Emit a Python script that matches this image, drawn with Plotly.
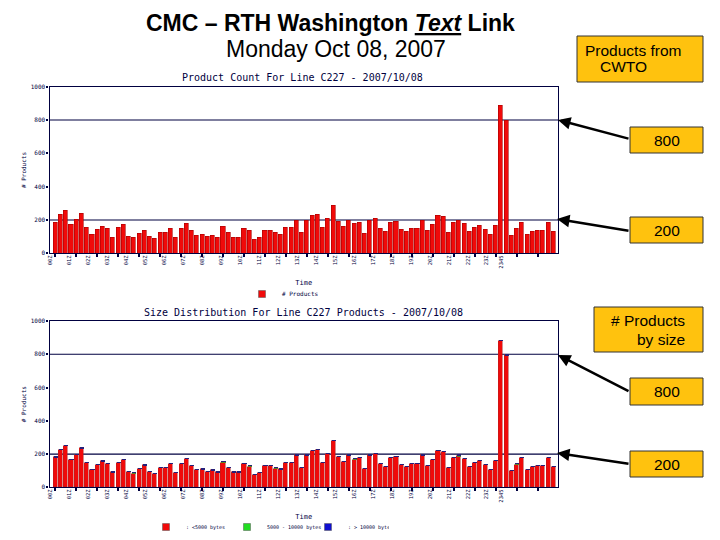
import plotly.graph_objects as go

# ---------------- data ----------------
# 15-minute bins over the day (96 bins)
bins = list(range(96))
counts = [186, 230, 254, 170, 200, 240, 152, 110, 140, 160,
          146, 94, 152, 170, 98, 92, 116, 138, 98, 86,
          122, 122, 146, 92, 146, 176, 134, 108, 112, 98,
          106, 94, 158, 122, 94, 94, 146, 134, 80, 92,
          134, 134, 122, 112, 152, 152, 198,
          122, 198, 224, 230, 152, 206, 284, 188, 158, 198,
          176, 182, 116, 198, 206, 146, 128, 182, 188, 140,
          128, 146, 146, 198, 134, 170, 224, 218, 122, 182,
          198, 176, 128, 152, 164, 140, 110, 164, 884, 798,
          104, 146, 182, 110, 128, 134, 134, 182, 128]
size_mid = [0, 0, 0, 0, 0, 0, 0, 0, 0, 0,
            0, 0, 0, 0, 0, 6, 0, 0, 0, 0,
            0, 0, 0, 0, 0, 0, 0, 0, 0, 0,
            0, 0, 6, 0, 0, 0, 0, 6, 0, 0,
            0, 0, 6, 0, 0, 0, 0,
            0, 0, 0, 0, 0, 0, 0, 0, 0, 0,
            6, 0, 0, 0, 0, 0, 0, 0, 0, 0,
            0, 0, 0, 0, 0, 0, 0, 0, 0, 0,
            6, 0, 0, 0, 0, 0, 0, 0, 0, 0,
            0, 6, 0, 0, 0, 0, 0, 0, 0]
size_large = [4, 4, 4, 4, 4, 4, 4, 4, 4, 4,
              4, 4, 4, 4, 4, 4, 4, 4, 4, 4,
              4, 4, 4, 4, 4, 4, 4, 4, 4, 4,
              4, 4, 4, 4, 4, 4, 4, 4, 4, 4,
              4, 4, 4, 4, 4, 4, 4,
              4, 4, 4, 4, 4, 4, 4, 4, 4, 4,
              4, 4, 4, 4, 4, 4, 4, 4, 4, 4,
              4, 4, 4, 4, 4, 4, 4, 4, 4, 4,
              4, 4, 4, 4, 4, 4, 4, 4, 4, 4,
              4, 4, 4, 4, 4, 4, 4, 4, 4]
size_small = [c - m - l for c, m, l in zip(counts, size_mid, size_large)]

hour_pos = list(range(24)) + [23.75]
hour_labels = ["%02dZ" % h for h in range(24)] + ["2345"]
y_ticks = [0, 200, 400, 600, 800, 1000]
thresholds = [200, 800]

# ---------------- helpers ----------------
OFF = 8                      # page body margin of the viewer
W, H = 720 - OFF, 540 - OFF
def px(x):
    return (x - OFF) / W
def py(y):
    return 1 - (y - OFF) / H

NAVY = "#000040"
MONO = "DejaVu Sans Mono"
ARIAL = "Liberation Sans, Arial"
RED = "#F00A0A"
xdom = [px(49.5), px(558)]
ydom_top = [py(253.3), py(86.7)]
ydom_bot = [py(487.3), py(321)]

fig = go.Figure()

# top chart
fig.add_trace(go.Bar(x=bins, y=counts, name="# Products", xaxis="x", yaxis="y",
                     marker=dict(color=RED, line=dict(color="#A80000", width=0.6)),
                     width=0.78, showlegend=False))
# bottom chart (stacked by size)
fig.add_trace(go.Bar(x=bins, y=size_small, name=": <5000 bytes", xaxis="x2", yaxis="y2",
                     marker=dict(color=RED, line=dict(color="#B02020", width=0.5)),
                     width=0.78, showlegend=False))
fig.add_trace(go.Bar(x=bins, y=size_mid, name="5000 - 10000 bytes", xaxis="x2", yaxis="y2",
                     marker=dict(color="#5A8A20", line=dict(width=0)),
                     width=0.78, showlegend=False))
fig.add_trace(go.Bar(x=bins, y=size_large, name=": > 10000 bytes", xaxis="x2", yaxis="y2",
                     marker=dict(color="#26207A", line=dict(width=0)),
                     width=0.78, showlegend=False))

# legend entries (small square keys like the original)
legend_items = [("# Products", RED, "legend"),
                (": <5000 bytes", RED, "legend2"),
                ("5000 - 10000 bytes", "#22DD22", "legend2"),
                (": > 10000 bytes", "#1010D0", "legend2")]
for name, col, lg in legend_items:
    fig.add_trace(go.Scatter(x=[None], y=[None], mode="markers", name=name, legend=lg,
                             xaxis="x", yaxis="y",
                             marker=dict(symbol="square", size=7, color=col,
                                         line=dict(color="#555555", width=0.5))))

# invisible carriers so the hour-label axes are drawn
for xa, ya in [("x3", "y"), ("x4", "y2")]:
    fig.add_trace(go.Scatter(x=hour_pos, y=[0] * len(hour_pos), xaxis=xa, yaxis=ya,
                             mode="markers", marker=dict(opacity=0, size=1),
                             hoverinfo="skip", showlegend=False))

xrange_bins = [-1.1, 95.9]
xrange_hours = [-0.063, 26.76]

def main_x(anchor):
    return dict(domain=xdom, anchor=anchor, range=xrange_bins, showgrid=False, zeroline=False,
                showline=True, mirror=True, linecolor=NAVY, linewidth=1.2, automargin=False,
                tickvals=list(range(0, 96, 4)), showticklabels=False,
                ticks="outside", ticklen=3, tickwidth=2, tickcolor=NAVY)

def label_x(overlay, anchor):
    return dict(domain=xdom, anchor=anchor, overlaying=overlay, range=xrange_hours,
                showgrid=False, zeroline=False, showline=False, ticks="", automargin=False,
                tickvals=hour_pos, ticktext=hour_labels, tickangle=-90,
                tickfont=dict(family=MONO, size=5.5, color=NAVY),
                title=dict(text="Time", font=dict(family=MONO, size=7, color=NAVY), standoff=12))

def main_y(dom, anchor):
    return dict(domain=dom, anchor=anchor, range=[0, 1000], showgrid=False, zeroline=False,
                showline=True, mirror=True, linecolor=NAVY, linewidth=1.2, automargin=False,
                tickvals=y_ticks, ticktext=[str(v) for v in y_ticks],
                ticks="outside", ticklen=2, tickwidth=2, tickcolor=NAVY,
                tickfont=dict(family=MONO, size=6, color=NAVY),
                title=dict(text="# Products", font=dict(family=MONO, size=6, color=NAVY), standoff=3))

shapes = []
for yref in ["y", "y2"]:
    xr = "x domain" if yref == "y" else "x2 domain"
    for t in thresholds:
        shapes.append(dict(type="line", xref=xr, yref=yref, x0=0, x1=1, y0=t, y1=t,
                           line=dict(color=NAVY, width=1.2), layer="below"))

boxes = [(577, 36, 703, 82), (630, 127, 703, 153), (630, 217, 703, 243),
         (594, 307, 703, 352), (630, 378, 703, 405), (630, 451, 703, 477)]
for x0, y0, x1, y1 in boxes:
    shapes.append(dict(type="rect", xref="paper", yref="paper",
                       x0=px(x0), x1=px(x1), y0=py(y1), y1=py(y0),
                       fillcolor="#FFC20E", line=dict(color="#333333", width=1)))

def note(text, x, y, font, xanchor="center", align="center"):
    return dict(text=text, x=px(x), y=py(y), xref="paper", yref="paper", showarrow=False,
                xanchor=xanchor, yanchor="middle", align=align, font=font)

big = dict(family=ARIAL, size=23, color="black")
box_font = dict(family=ARIAL, size=15.5, color="black")
annotations = [
    note("<b>CMC – RTH Washington <i><u>Text</u></i> Link</b>", 330, 23, big),
    note("Monday Oct 08, 2007", 336, 49, big),
    note("Product Count For Line C227 - 2007/10/08", 302, 78, dict(family=MONO, size=10, color=NAVY)),
    note("Size Distribution For Line C227 Products - 2007/10/08", 303, 312,
         dict(family=MONO, size=10, color=NAVY)),
    note("Products from", 633, 50, box_font),
    note("CWTO", 623, 67, box_font),
    note("# Products", 687, 320, box_font, xanchor="right"),
    note("by size", 687, 339, box_font, xanchor="right"),
]
for (x0, y0, x1, y1) in boxes[1:3] + boxes[4:6]:
    lab = "800" if y0 in (127, 378) else "200"
    annotations.append(note(lab, (x0 + x1) / 2, (y0 + y1) / 2, box_font))

arrows = [((558, 120), (630, 139)), ((557, 219), (630, 231)),
          ((558, 355), (630, 392)), ((557, 453), (630, 464))]
for (hx, hy), (tx, ty) in arrows:
    annotations.append(dict(text="", x=px(hx), y=py(hy), xref="paper", yref="paper",
                            ax=tx - hx, ay=ty - hy, showarrow=True, arrowhead=2,
                            arrowsize=1, arrowwidth=2.5, arrowcolor="black"))

fig.update_layout(
    width=W, height=H, margin=dict(l=0, r=0, t=0, b=0, pad=0, autoexpand=False),
    paper_bgcolor="white", plot_bgcolor="white",
    barmode="stack", bargap=0,
    xaxis=main_x("y"), yaxis=main_y(ydom_top, "x"),
    xaxis3=label_x("x", "y"),
    xaxis2=main_x("y2"), yaxis2=main_y(ydom_bot, "x2"),
    xaxis4=label_x("x2", "y2"),
    shapes=shapes, annotations=annotations,
    legend=dict(x=px(242), y=py(294), xanchor="left", yanchor="middle", orientation="h",
                font=dict(family=MONO, size=6, color=NAVY), bgcolor="rgba(0,0,0,0)",
                itemwidth=30),
    legend2=dict(x=px(146), y=py(527), xanchor="left", yanchor="middle", orientation="h",
                 font=dict(family=MONO, size=5, color=NAVY), bgcolor="rgba(0,0,0,0)",
                 itemwidth=30, entrywidth=36, traceorder="normal"),
    showlegend=True,
)

fig.write_html("out.html")
